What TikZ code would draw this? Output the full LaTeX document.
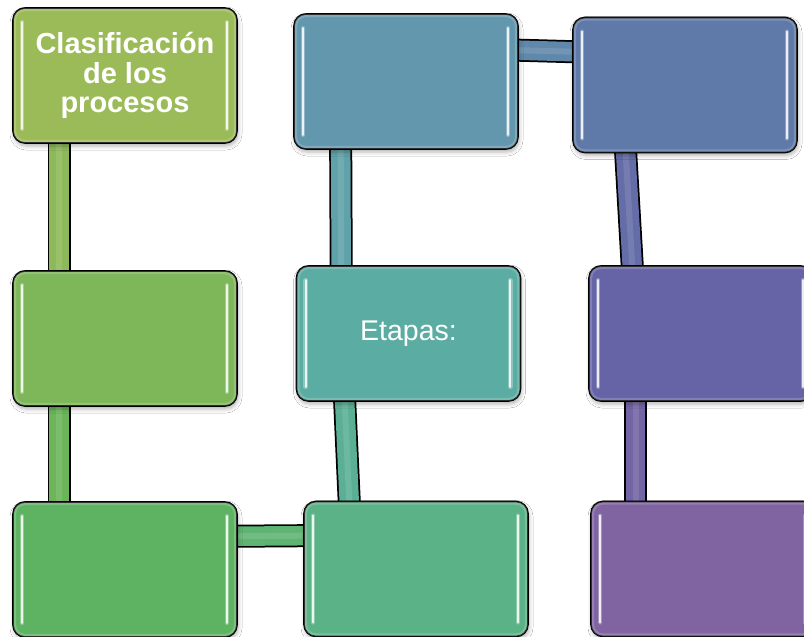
\documentclass[tikz,border=0pt]{standalone}
\usepackage{fontspec}
\setmainfont{Liberation Sans}
\usetikzlibrary{backgrounds,shadows.blur}
\definecolor{c1}{HTML}{9BBB59}
\definecolor{c2}{HTML}{7DB75A}
\definecolor{c3}{HTML}{5EB362}
\definecolor{c4}{HTML}{5CB287}
\definecolor{c5}{HTML}{5BADA3}
\definecolor{c6}{HTML}{6297AD}
\definecolor{c7}{HTML}{5F79A8}
\definecolor{c8}{HTML}{6663A6}
\definecolor{c9}{HTML}{8064A2}
\definecolor{k12}{HTML}{8DB95A}
\definecolor{k23}{HTML}{6CB55B}
\definecolor{k34}{HTML}{5EB473}
\definecolor{k45}{HTML}{5BAF95}
\definecolor{k56}{HTML}{5FA2A9}
\definecolor{k67}{HTML}{6088AA}
\definecolor{k78}{HTML}{646DA7}
\definecolor{k89}{HTML}{7364A4}
\tikzset{
  box/.style={draw=black, line width=1.6pt, rounded corners=12pt,
    minimum width=224pt, minimum height=135pt, inner sep=0pt,
    text=white, align=center,
    blur shadow={shadow xshift=1pt, shadow yshift=-3pt, shadow blur radius=4pt, shadow opacity=30}},
  conn/.style={draw=black, line width=23pt, shorten <=-4pt, shorten >=-4pt,
    postaction={draw=#1, line width=19.5pt},
    postaction={draw=#1!75!white, line width=6pt, opacity=0.45}},
}
\newcommand\glossy[2]{%
  \draw[rounded corners=10pt, line width=3pt, draw=white, opacity=0.18]
    ([shift={(2.5pt,-2.5pt)}]#1.north west) rectangle ([shift={(-2.5pt,2.5pt)}]#1.south east);
  \draw[line width=4.5pt, line cap=round, draw=#2!50!white, opacity=0.6]
    ([xshift=10pt,yshift=-15pt]#1.north west) -- ([xshift=10pt,yshift=15pt]#1.south west);
  \draw[line width=4.5pt, line cap=round, draw=#2!50!white, opacity=0.6]
    ([xshift=-11pt,yshift=-15pt]#1.north east) -- ([xshift=-11pt,yshift=15pt]#1.south east);
  \draw[line width=2pt, line cap=round, draw=#2!12!white]
    ([xshift=10pt,yshift=-15pt]#1.north west) -- ([xshift=10pt,yshift=15pt]#1.south west);
  \draw[line width=2pt, line cap=round, draw=#2!12!white]
    ([xshift=-11pt,yshift=-15pt]#1.north east) -- ([xshift=-11pt,yshift=15pt]#1.south east);
}
\begin{document}
\begin{tikzpicture}[x=1pt, y=-1pt]
\useasboundingbox (0,0) rectangle (804,637);
\node[box, fill=c1, font=\bfseries\fontsize{29}{29.5}\selectfont] (b1) at (125,75.5) {Clasificación\\de los\\procesos};
\node[box, fill=c2] (b2) at (125,338.5) {};
\node[box, fill=c3] (b3) at (125,569.5) {};
\node[box, fill=c4] (b4) at (416,569) {};
\node[box, fill=c5, font=\fontsize{28.5}{30}\selectfont] (b5) at (408.5,333.5) {Etapas:};
\node[box, fill=c6] (b6) at (406,81.5) {};
\node[box, fill=c7] (b7) at (685,85) {};
\node[box, fill=c8] (b8) at (701,333.5) {};
\node[box, fill=c9] (b9) at (703,569) {};
\glossy{b1}{c1}
\glossy{b2}{c2}
\glossy{b3}{c3}
\glossy{b4}{c4}
\glossy{b5}{c5}
\glossy{b6}{c6}
\glossy{b7}{c7}
\glossy{b8}{c8}
\glossy{b9}{c9}
\begin{pgfonlayer}{background}
\fill[white] (0,0) rectangle (804,637);
\draw[conn=k12] ([xshift=47pt]b1.south west) -- ([xshift=47pt]b2.north west);
\draw[conn=k23] ([xshift=47pt]b2.south west) -- ([xshift=47pt]b3.north west);
\draw[conn=k34] ([yshift=-35pt]b3.north east) -- ([yshift=-35pt]b4.north west);
\draw[conn=k45] ([xshift=46pt]b4.north west) -- ([xshift=49pt]b5.south west);
\draw[conn=k56] ([xshift=45.5pt]b5.north west) -- ([xshift=47.5pt]b6.south west);
\draw[conn=k67] ([yshift=-37pt]b6.north east) -- ([yshift=-35pt]b7.north west);
\draw[conn=k78] ([xshift=53.5pt]b7.south west) -- ([xshift=44pt]b8.north west);
\draw[conn=k89] ([xshift=47.5pt]b8.south west) -- ([xshift=45.5pt]b9.north west);
\end{pgfonlayer}
\end{tikzpicture}
\end{document}
